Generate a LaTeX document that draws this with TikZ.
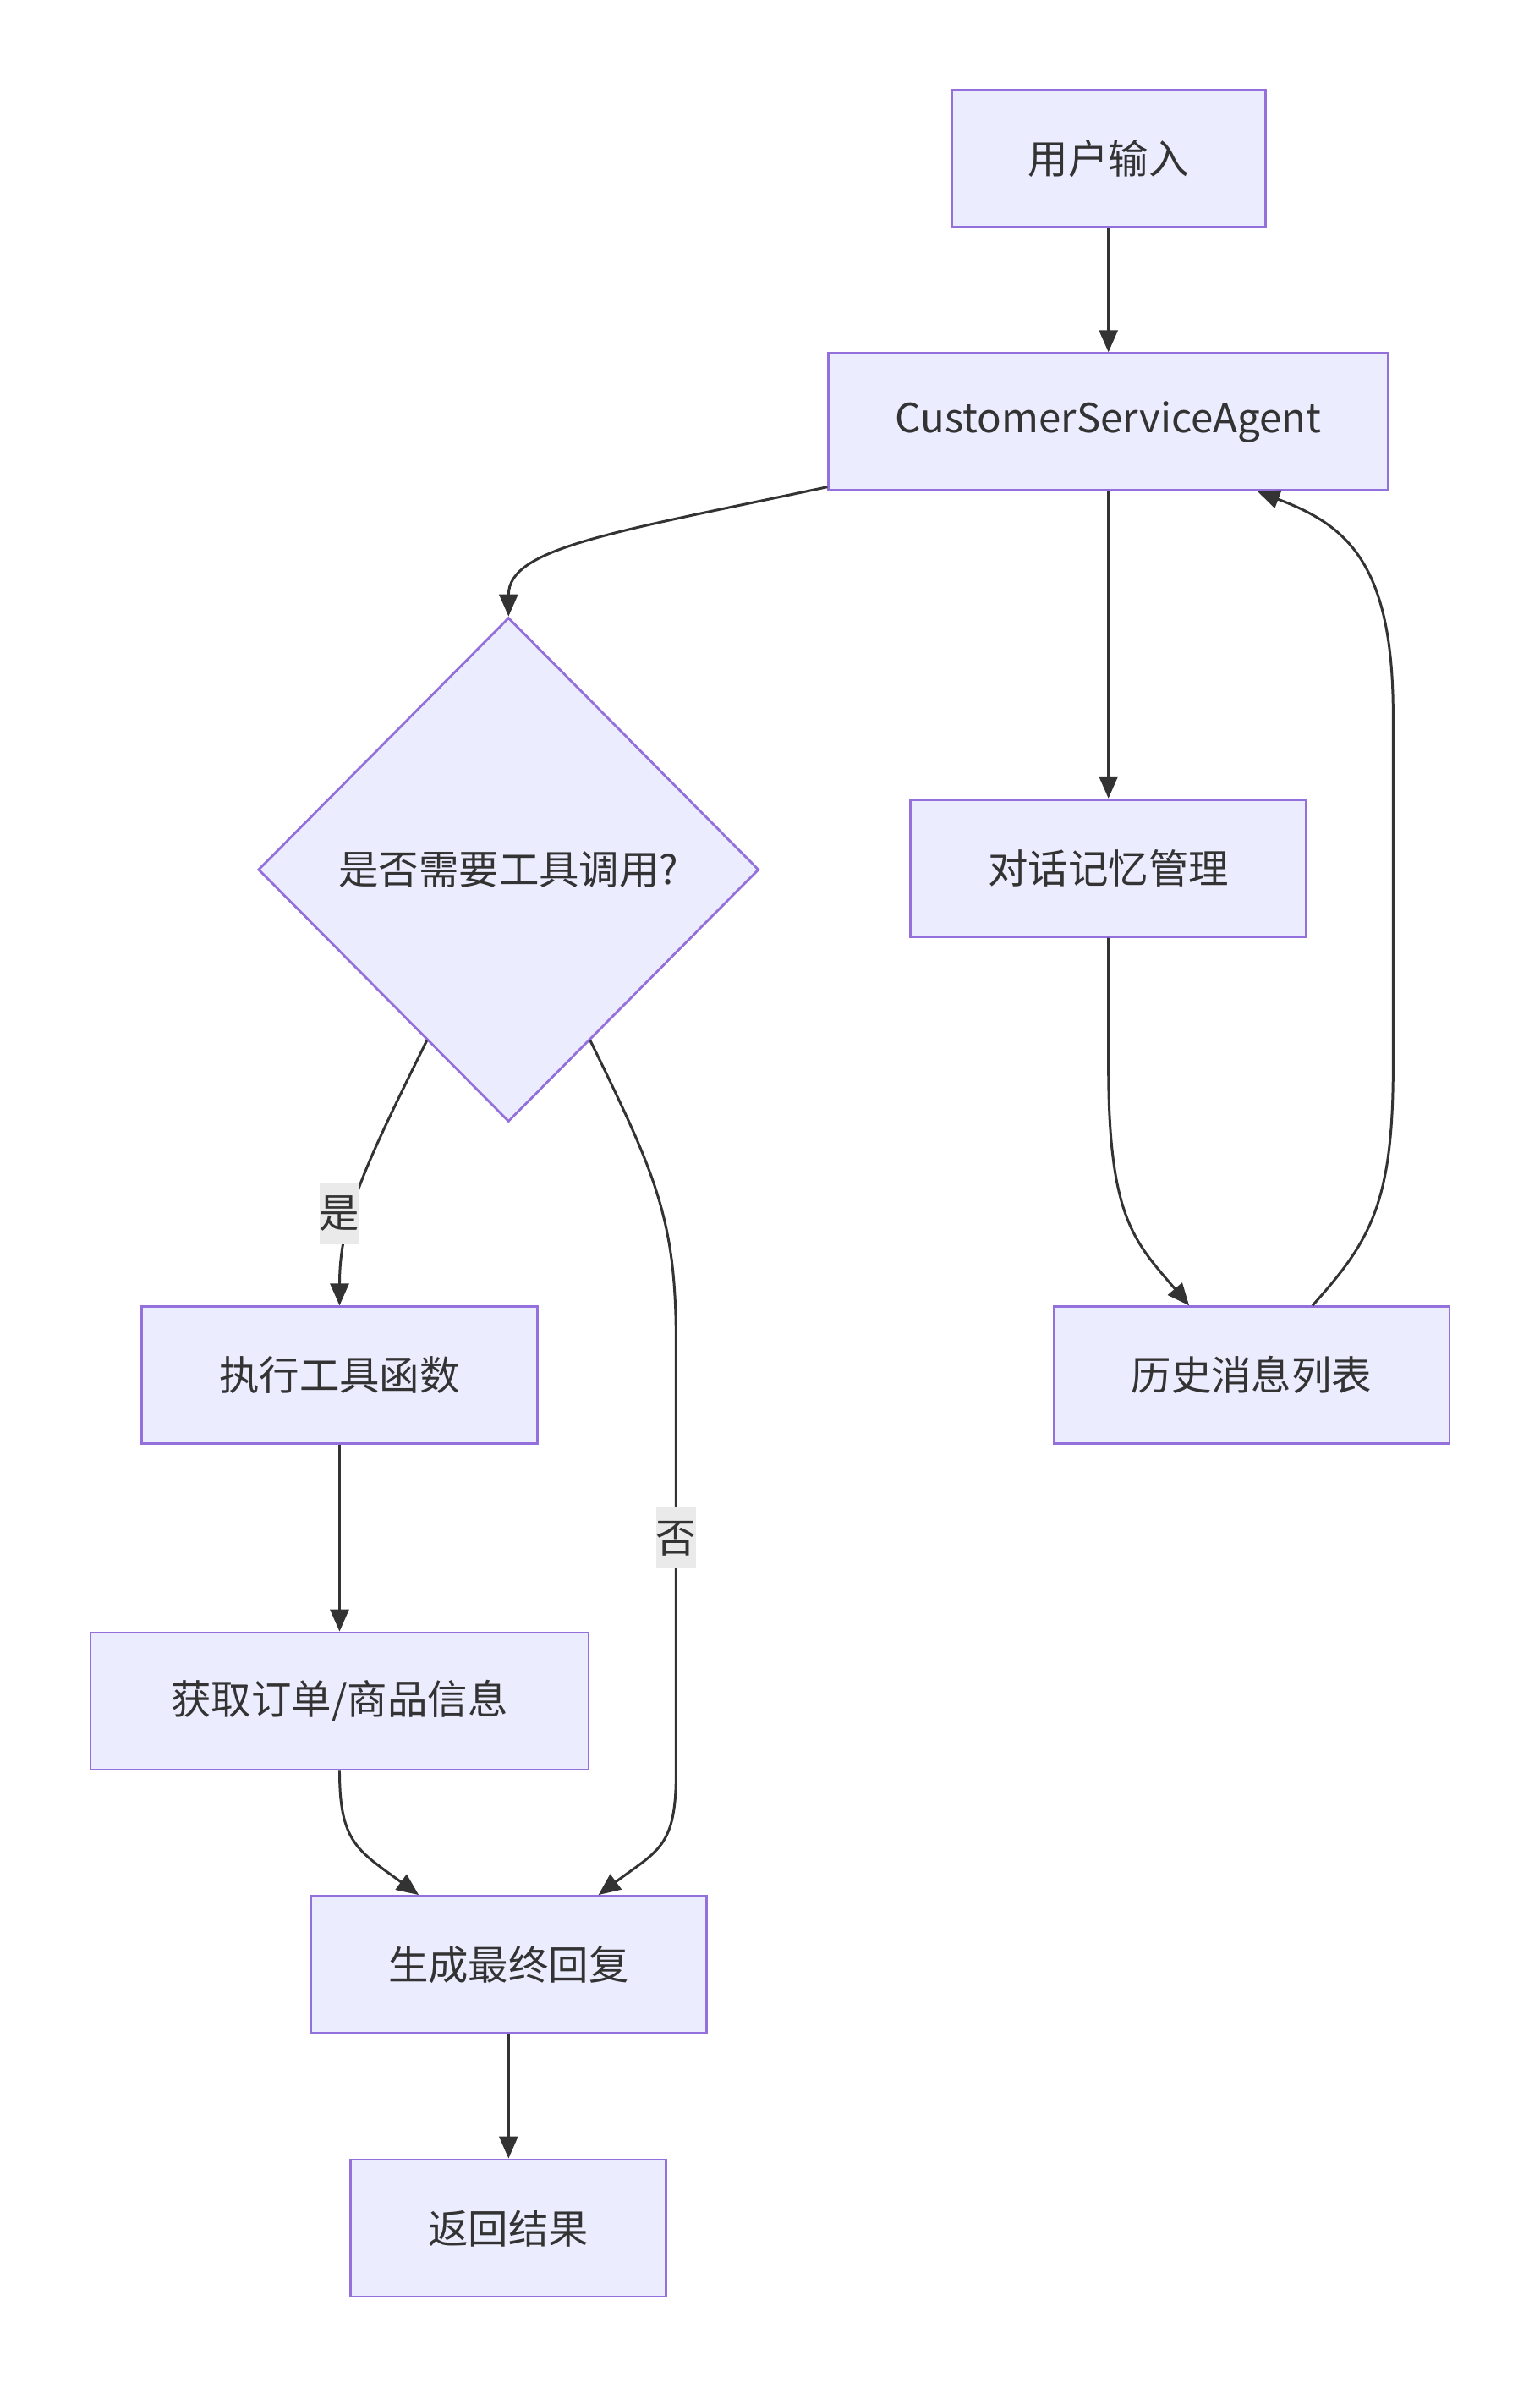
\documentclass[tikz,border=0pt]{standalone}
\usepackage{fontspec}
\setmainfont{Noto Sans CJK SC}
\usetikzlibrary{shapes.geometric,arrows.meta,calc}
\definecolor{nodefill}{HTML}{ECECFF}
\definecolor{nodeline}{HTML}{9370DB}
\definecolor{ink}{HTML}{333333}
\definecolor{labelbg}{HTML}{EAEAEA}

\begin{document}
\begin{tikzpicture}[
  x=0.018cm, y=-0.018cm,
  font=\fontsize{13.5}{16}\selectfont, text=ink,
  box/.style={draw=nodeline,fill=nodefill,line width=0.8pt,minimum height=1.62cm,minimum width=4.68cm,inner xsep=0pt},
  decision/.style={draw=nodeline,fill=nodefill,line width=0.8pt,diamond,aspect=1,minimum width=5.92cm,minimum height=5.96cm,inner sep=0pt},
  arr/.style={-{Triangle[length=0.26cm,width=0.22cm]},line width=0.85pt,draw=ink},
  lbl/.style={fill=labelbg,inner xsep=0pt,inner ysep=0pt,minimum height=0.72cm},
]
\useasboundingbox (0,0) rectangle (1011,1568);

% 主流程
\node[box,minimum width=3.71cm] (input) at (728,104) {用户输入};
\node[box,minimum width=6.62cm] (csa) at (728,277) {CustomerServiceAgent};
\node[decision] (dec) at (334,571) {是否需要工具调用?};
\node[box] (exec) at (223,903) {执行工具函数};
\node[box,minimum width=5.89cm] (fetch) at (223,1117) {获取订单/商品信息};
\node[box] (gen) at (334,1290) {生成最终回复};
\node[box,minimum width=3.73cm] (ret) at (334,1463) {返回结果};

% 记忆
\node[box] (mem) at (728,570) {对话记忆管理};
\node[box] (hist) at (822,903) {历史消息列表};

% 连接
\draw[arr] (input) -- (csa);
\draw[arr] ($(csa.south west)+(0,-3)$) .. controls (400,350) and (334,360) .. (dec.north);
\draw[arr] ($(dec.west)!0.675!(dec.south)$) .. controls (240,765) and (223,800) .. (exec.north);
\draw[arr] ($(dec.east)!0.675!(dec.south)$) .. controls (430,770) and (444,800) .. (444,880)
  -- (444,1165) .. controls (444,1213) and (432,1215) .. ($(gen.north)+(59,0)$);
\draw[arr] (exec) -- (fetch);
\draw[arr] (fetch.south) .. controls (223,1210) and (235,1215) .. ($(gen.north)+(-59,0)$);
\draw[arr] (gen) -- (ret);

\draw[arr] (csa) -- (mem);
\draw[arr] (mem.south) -- (728,700) .. controls (728,800) and (745,815) .. ($(hist.north)+(-41,0)$);
\draw[arr] ($(hist.north)+(40,0)$) .. controls (900,815) and (915,790) .. (915,700)
  -- (915,470) .. controls (915,370) and (885,345) .. ($(csa.south)+(98,0)$);

% 分支标签
\node[lbl] (yes) at (223,797) {是};
\node[lbl] (no) at (444,1010) {否};

\end{tikzpicture}
\end{document}
